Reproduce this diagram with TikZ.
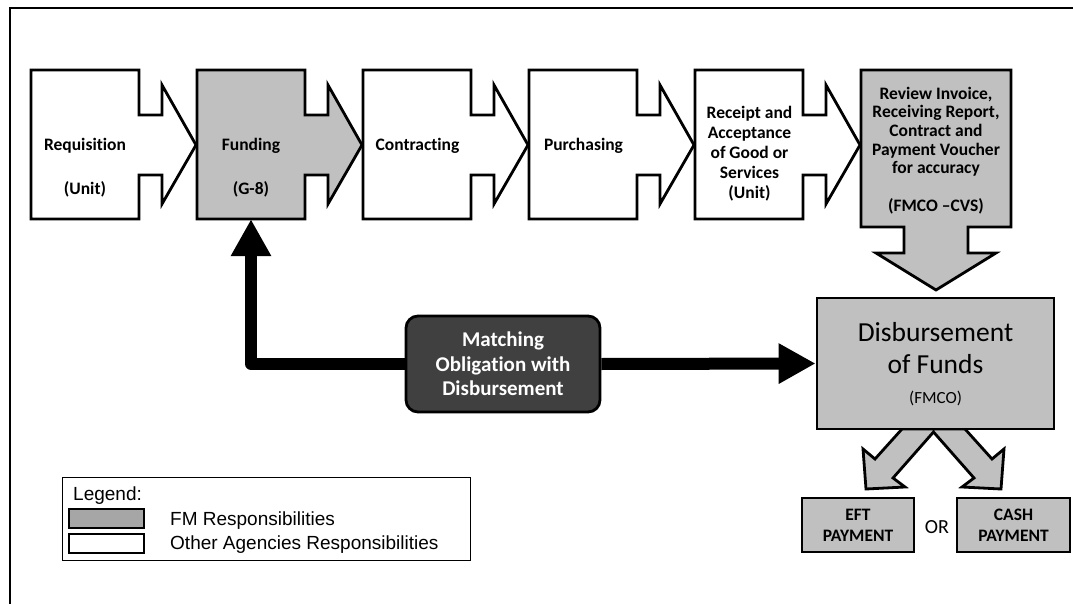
\documentclass[tikz,border=0pt]{standalone}
\usepackage{fontspec}
\setmainfont{Carlito}[Ligatures=NoCommon]
\newfontfamily\arialf{Liberation Sans}
\usetikzlibrary{arrows.meta}
\definecolor{fmgray}{HTML}{C0C0C0}
\definecolor{leggray}{HTML}{A6A6A6}
\definecolor{darkbox}{HTML}{404040}
\newcommand\chevbox[2]{%
  \draw[outl, fill=#2] (#1,70) -- ++(108,0) -- ++(0,45) -- ++(23,0) -- ++(0,-30)
    -- ++(34,60) -- ++(-34,59) -- ++(0,-29) -- ++(-23,0) -- ++(0,44) -- ++(-108,0) -- cycle;}
\begin{document}
\begin{tikzpicture}[x=1pt,y=-1pt,
  outl/.style={draw=black,line width=2.8pt,line join=miter},
  body/.style={minimum width=108pt,minimum height=149pt,inner sep=0pt},
  lbl/.style={font=\fontsize{17.5}{20}\selectfont\bfseries,inner sep=0pt,align=center},
  conn/.style={line width=12pt,line join=round,-{Triangle[width=38pt,length=37pt]}},
  paybox/.style={draw=black,line width=2.8pt,fill=fmgray,minimum height=54pt,inner sep=0pt,
    align=center,font=\fontsize{17.5}{21}\selectfont\bfseries},
  legtxt/.style={font=\arialf\fontsize{19}{21}\selectfont,anchor=base west,inner sep=0pt}
]
\useasboundingbox (0,0) rectangle (1073,604);
\fill[white] (0,0) rectangle (1073,604);
\draw[line width=2pt] (10,604) -- (10,8) -- (1073,8);

% process chevrons
\chevbox{31}{white}
\chevbox{197}{fmgray}
\chevbox{363}{white}
\chevbox{529}{white}
\chevbox{695}{white}

\node[body] (req) at (85,144.5) {};
\node[body] (fund) at (251,144.5) {};
\node[body] (cont) at (417,144.5) {};
\node[body] (purch) at (583,144.5) {};
\node[body] (rcpt) at (749,144.5) {};

\node[lbl,anchor=base] (reqa) at (85,150.5) {Requisition};
\node[lbl,anchor=base] (reqb) at (85,194) {(Unit)};
\node[lbl,anchor=base] (funa) at (251,150.5) {Funding};
\node[lbl,anchor=base] (funb) at (251,194) {(G-8)};
\node[lbl,anchor=base] (cona) at (417.5,150.5) {Contracting};
\node[lbl,anchor=base] (pura) at (583.5,150.5) {Purchasing};
\node[lbl] (rcpa) at (749.5,154) {Receipt and\\Acceptance\\of Good or\\Services\\(Unit)};

% review box with down arrow
\draw[outl, fill=fmgray] (861,70) -- (1011,70) -- (1011,227) -- (968,227) -- (968,253)
  -- (996,253) -- (936,290) -- (876,253) -- (904,253) -- (904,227) -- (861,227) -- cycle;
\node[minimum width=150pt,minimum height=157pt,inner sep=0pt] (rev) at (936,148.5) {};
\node[lbl,font=\fontsize{17.5}{18.7}\selectfont\bfseries] (revt) at (936,150.3)
  {Review Invoice,\\Receiving Report,\\Contract and\\Payment Voucher\\for accuracy\\[18.5pt](FMCO –CVS)};

% split arrows
\draw[outl, fill=fmgray] (902,429) -- (875,459) -- (863,449) -- (866,489) -- (905,487)
  -- (893,478) -- (933.5,432) -- (974,478) -- (962,487) -- (1001,489) -- (1004,449)
  -- (992,459) -- (965,429) -- cycle;

% disbursement
\node[draw=black,line width=2.8pt,fill=fmgray,minimum width=237pt,minimum height=131pt,inner sep=0pt]
  (disb) at (935.5,363.5) {};
\node[inner sep=0pt,align=center,font=\fontsize{27.5}{31.5}\selectfont] (disbt) at (935.5,348)
  {Disbursement\\of Funds};
\node[inner sep=0pt,anchor=base,font=\fontsize{17}{19}\selectfont] (disbf) at (935.5,403) {(FMCO)};

% payments
\node[paybox,minimum width=112pt] (eft) at (858,525) {EFT\\PAYMENT};
\node[paybox,minimum width=113pt] (cash) at (1013.5,525) {CASH\\PAYMENT};
\node[inner sep=0pt,font=\fontsize{20}{22}\selectfont] (or) at (937,527) {OR};

% matching
\node[draw=black,line width=2.8pt,fill=darkbox,rounded corners=12pt,minimum width=194pt,
  minimum height=96pt,inner sep=0pt,align=center,text=white,
  font=\fontsize{21}{24.5}\selectfont\bfseries] (match) at (503,364)
  {Matching\\Obligation with\\Disbursement};

\draw[conn] (match.west) -| (fund.south);
\draw[conn] (match.east) -- (disb.west);

% legend
\node[draw=black,line width=0.8pt,minimum width=408pt,minimum height=83pt,inner sep=0pt] (leg) at (266,518.5) {};
\node[legtxt] (legt) at (73,500) {Legend:};
\node[draw=black,line width=2.6pt,fill=leggray,minimum width=75pt,minimum height=19pt,inner sep=0pt] (sw1) at (106.5,518.5) {};
\node[draw=black,line width=2.6pt,fill=white,minimum width=75pt,minimum height=19pt,inner sep=0pt] (sw2) at (106.5,543.5) {};
\node[legtxt] (lg1) at (170,525) {FM Responsibilities};
\node[legtxt] (lg2) at (170,549) {Other Agencies Responsibilities};
\end{tikzpicture}
\end{document}
